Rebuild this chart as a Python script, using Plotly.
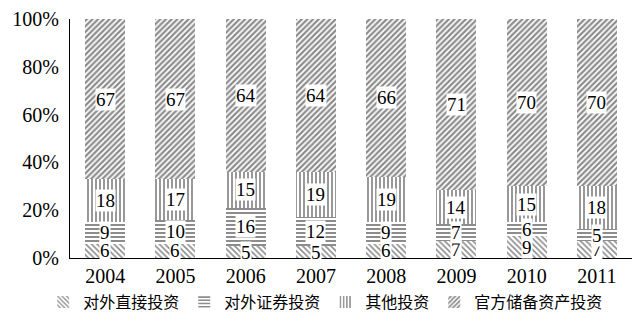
import plotly.graph_objects as go

years = ["2004", "2005", "2006", "2007", "2008", "2009", "2010", "2011"]
fdi = [6, 6, 5, 5, 6, 7, 9, 7]
portfolio = [9, 10, 16, 12, 9, 7, 6, 5]
other = [18, 17, 15, 19, 19, 14, 15, 18]
reserve = [67, 67, 64, 64, 66, 71, 70, 70]

series = [
    ("对外直接投资", fdi, "\\", 4, 0.4),
    ("对外证券投资", portfolio, "-", 4, 0.5),
    ("其他投资", other, "|", 4, 0.45),
    ("官方储备资产投资", reserve, "/", 4, 0.55),
]

serif = "Liberation Serif, Times New Roman, serif"
cjk = "Noto Sans CJK SC"

fig = go.Figure()
for name, vals, shape, psize, sol in series:
    fig.add_trace(go.Bar(
        x=years, y=vals, name=name,
        marker=dict(color="white", line=dict(width=0),
                    pattern=dict(shape=shape, fgcolor="#1a1a1a", bgcolor="white",
                                 size=psize, solidity=sol)),
    ))

# labels with white background, centred in each segment
totals = [sum(s[1][i] for s in series) for i in range(len(years))]
for i, yr in enumerate(years):
    cum = 0
    for name, vals, shape, psize, sol in series:
        v = vals[i]
        mid = (cum + v / 2) / totals[i] * 100
        cum += v
        fig.add_annotation(x=i, y=mid, xref="x", yref="y", text=str(v), showarrow=False,
                           font=dict(family=serif, size=19, color="black"),
                           bgcolor="white", borderpad=0)

fig.update_layout(
    barmode="stack", barnorm="percent", bargap=0.43,
    width=632, height=322,
    margin=dict(l=70, r=0, t=19, b=64),
    paper_bgcolor="white", plot_bgcolor="white",
    showlegend=True,
    legend=dict(orientation="h", x=0.455, xanchor="center",
                y=-0.184, yanchor="middle",
                font=dict(family=cjk, size=16, color="black"),
                itemwidth=30, tracegroupgap=0, traceorder="normal"),
    font=dict(family=serif, color="black"),
)
fig.update_xaxes(type="category", range=[-0.5, 7.5], showline=True, linecolor="black",
                 linewidth=1, ticks="", tickfont=dict(family=serif, size=20), showgrid=False)
fig.update_yaxes(range=[0, 100], tickvals=[0, 20, 40, 60, 80, 100],
                 ticktext=["0%", "20%", "40%", "60%", "80%", "100%"],
                 showline=True, linecolor="black", linewidth=1, ticks="",
                 tickfont=dict(family=serif, size=20), showgrid=False,
                 zeroline=False, ticklabelstandoff=6)

fig.write_html("out.html")
